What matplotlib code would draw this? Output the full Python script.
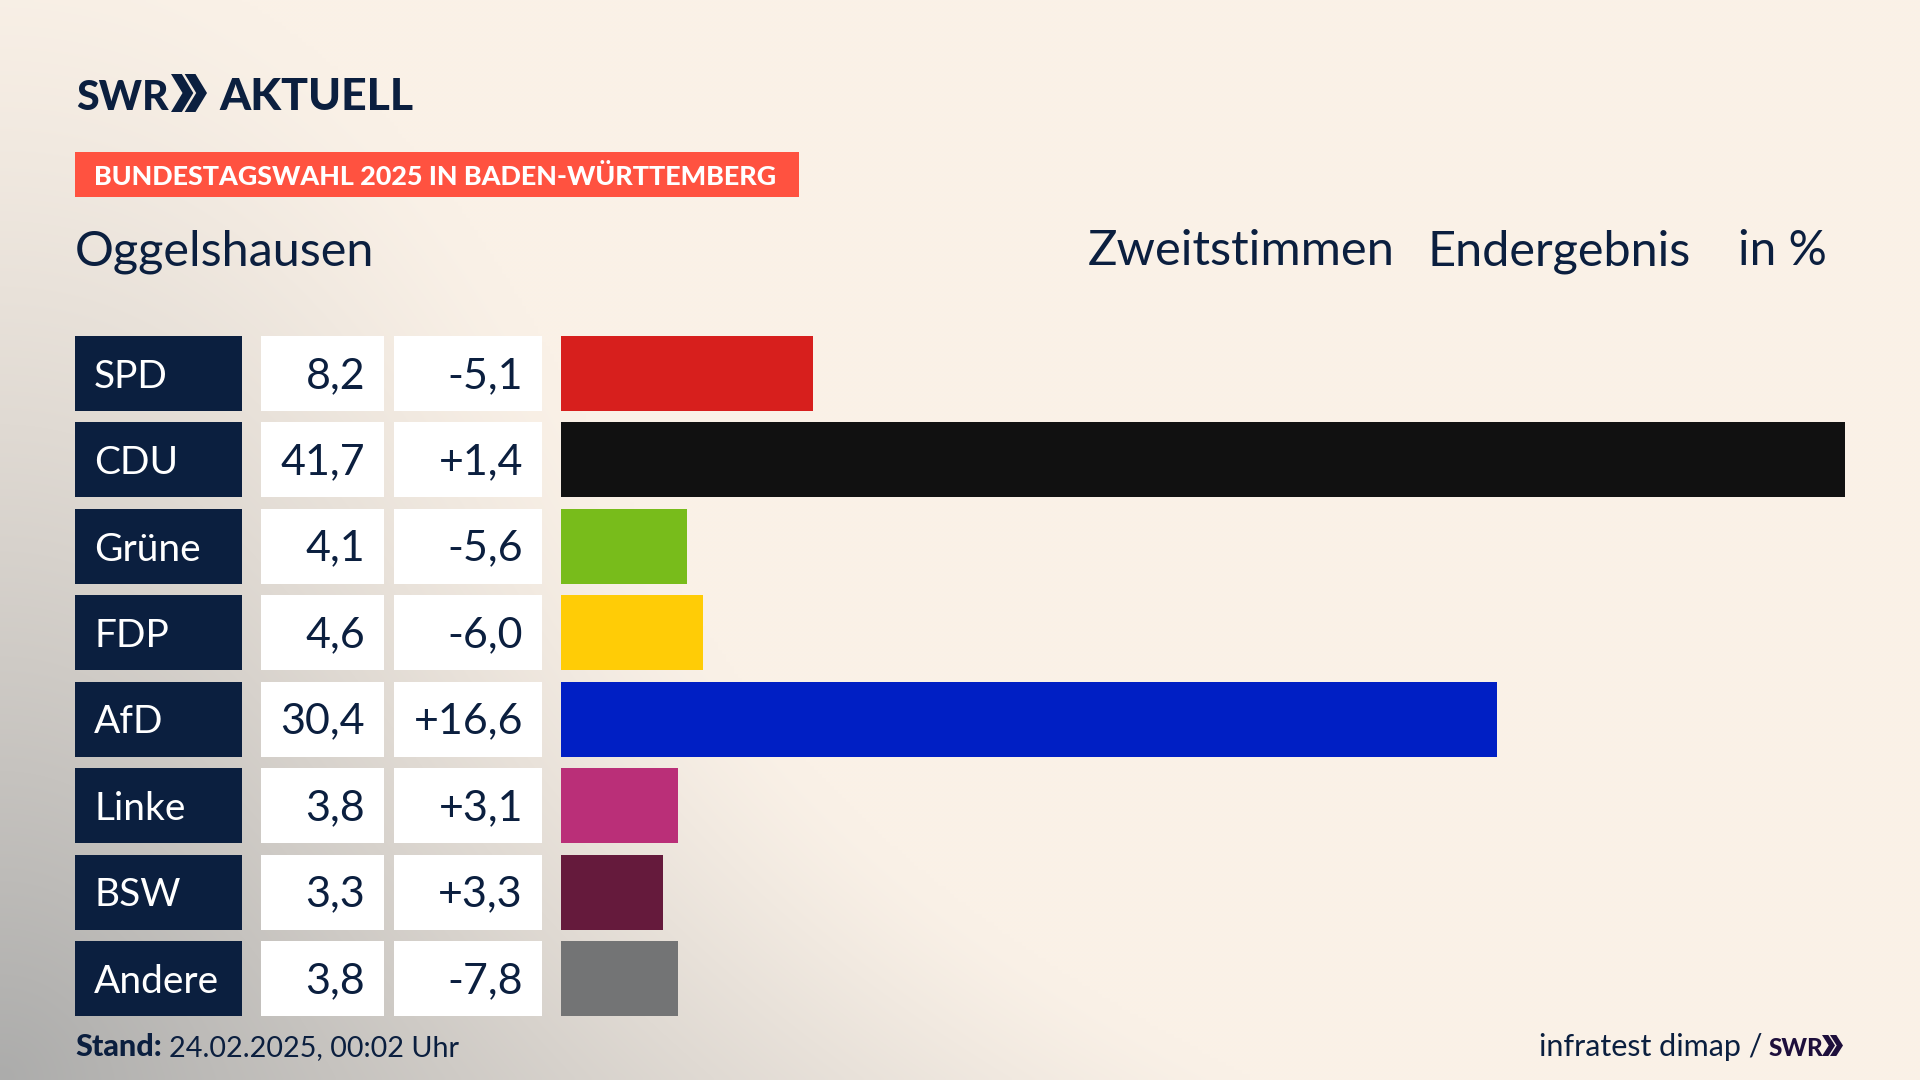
import numpy as np
import matplotlib
matplotlib.use("Agg")
import matplotlib.pyplot as plt
from matplotlib.patches import Rectangle, Polygon
from matplotlib.transforms import Affine2D, blended_transform_factory

parties = ["SPD", "CDU", "Grüne", "FDP", "AfD", "Linke", "BSW", "Andere"]
shares = [8.2, 41.7, 4.1, 4.6, 30.4, 3.8, 3.3, 3.8]
changes = ["-5,1", "+1,4", "-5,6", "-6,0", "+16,6", "+3,1", "+3,3", "-7,8"]
colors = ["#D71F1D", "#111111", "#78BC1B", "#FFCC06", "#001FC4", "#BA2F78", "#651A3C", "#737475"]

W, H = 1920, 1080
NAVY = "#0B1F3F"
FONT = "Lato"
plt.rcParams["font.family"] = [FONT, "DejaVu Sans"]

fig = plt.figure(figsize=(W / 100, H / 100), dpi=100)
px = Affine2D().scale(1 / W, -1 / H).translate(0, 1) + fig.transFigure

# background
bg = fig.add_axes([0, 0, 1, 1], zorder=0)
bg.axis("off")
yy, xx = np.mgrid[0:H:270j, 0:W:480j]
rx = 700 + 550 * (yy / H) ** 4
d1 = np.sqrt((xx / rx) ** 2 + ((H - yy) / 1150) ** 2)
t = np.clip(1 - d1, 0, 1) ** 1.3
base = np.array([250, 241, 231]) / 255
dark = np.array([172, 172, 171]) / 255
img = base[None, None, :] * (1 - t[..., None]) + dark[None, None, :] * t[..., None]
bg.imshow(img, extent=[0, W, H, 0], aspect="auto", interpolation="bilinear")

# bars
x0, x1 = 561, 1845
top, bottom = 336, 1016
pitch = (941 - 336) / 7
hgt = 75 / pitch
ax = fig.add_axes([x0 / W, 1 - bottom / H, (x1 - x0) / W, (bottom - top) / H], zorder=2)
ax.set_facecolor("none")
for s in ax.spines.values():
    s.set_visible(False)
ax.set_xlim(0, max(shares))
ax.set_ylim(len(parties) - 1 + hgt / 2, -hgt / 2)
ax.set_xticks([])
ax.set_yticks([])
ypos = np.arange(len(parties))
ax.barh(ypos, shares, height=hgt, color=colors, linewidth=0)

# table
tr = blended_transform_factory(px, ax.transData)
base_off = 0.165
for i, p in enumerate(parties):
    for (a, b, c) in [(75, 242, NAVY), (261, 384, "white"), (394, 542, "white")]:
        ax.add_patch(Rectangle((a, i - hgt / 2), b - a, hgt, transform=tr, fc=c, ec="none", clip_on=False))
    ax.text(94, i + base_off, p, transform=tr, color="white", fontsize=28, ha="left", va="baseline")
    ax.text(365, i + base_off, f"{shares[i]:.1f}".replace(".", ","), transform=tr, color=NAVY,
            fontsize=31, ha="right", va="baseline")
    ax.text(523, i + base_off, changes[i], transform=tr, color=NAVY, fontsize=31, ha="right", va="baseline")


def chev(x, y0, y1, w, color):
    """Double chevron in pixel coordinates."""
    m = (y0 + y1) / 2
    cw, th = 0.62 * w, 0.3 * w
    for off in (0, w - cw):
        pts = [(x + off, y0), (x + off + th, y0), (x + off + cw, m),
               (x + off + th, y1), (x + off, y1), (x + off + cw - th, m)]
        fig.add_artist(Polygon(pts, closed=True, transform=px, fc=color, ec="none"))


def T(x, y, s, **kw):
    kw.setdefault("color", NAVY)
    kw.setdefault("va", "baseline")
    return fig.text(x / W, 1 - y / H, s, zorder=5, **kw)


# header
T(76, 110, "SWR", fontsize=29.5, fontweight="black")
chev(171, 74, 112, 36, NAVY)
T(219, 110, "AKTUELL", fontsize=32, fontweight="black")
fig.add_artist(Rectangle((75, 152), 724, 45, transform=px, fc="#FF5240", ec="none"))
T(94, 185, "BUNDESTAGSWAHL 2025 IN BADEN-WÜRTTEMBERG", fontsize=19.4, fontweight="black", color="#FFFFFF")
T(75, 265, "Oggelshausen", fontsize=35)
T(1088, 265, "Zweitstimmen", fontsize=35.3)
T(1428, 265, "Endergebnis", fontsize=35)
T(1738, 265, "in %", fontsize=34.5)

# footer
T(75, 1056, "Stand:", fontsize=22, fontweight="black")
T(169, 1056, "24.02.2025, 00:02 Uhr", fontsize=20.7)
T(1539, 1056, "infratest dimap /", fontsize=22)
T(1769, 1056, "SWR", fontsize=17.5, fontweight="black", color="#1E0F3C")
chev(1822, 1035, 1056, 21, "#1E0F3C")

fig.savefig("out.png", dpi=100)
